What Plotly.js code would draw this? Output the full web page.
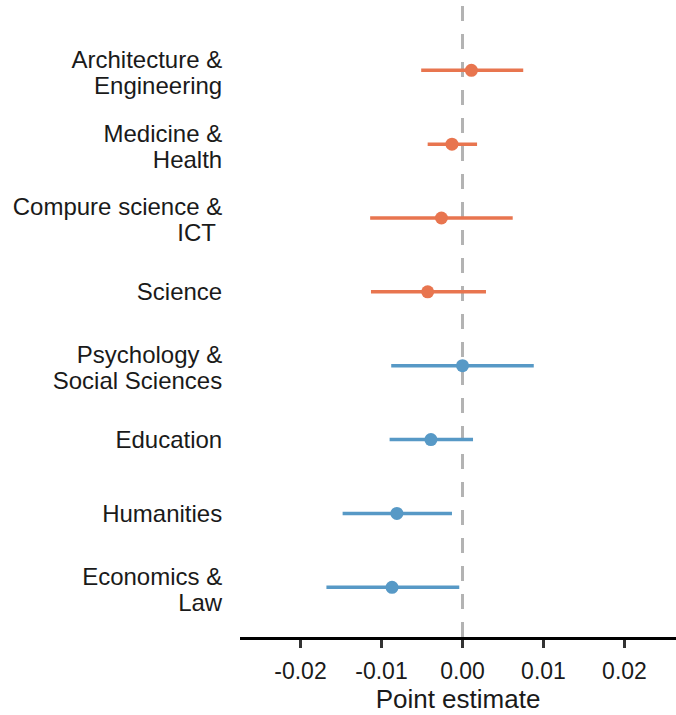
<!DOCTYPE html>
<html>
<head>
<meta charset="utf-8">
<script src="https://cdn.plot.ly/plotly-3.0.1.min.js"></script>
<style>html,body{margin:0;padding:0;background:#fff;}#chart{width:676px;height:715px;}</style>
</head>
<body>
<div id="chart"></div>
<script>
// Categories from top to bottom ("\n" marks a line break in the label)
const categories = [
  "Architecture &\nEngineering",
  "Medicine &\nHealth",
  "Compure science &\nICT ",
  "Science",
  "Psychology &\nSocial Sciences",
  "Education",
  "Humanities",
  "Economics &\nLaw"
];
const groupA = [0, 1, 2, 3];      // orange group (indices)
const groupB = [4, 5, 6, 7];      // blue group (indices)
const pointEstimate = [0.0011, -0.0013, -0.0026, -0.0043, 0.0000, -0.0039, -0.0081, -0.0087];
const ciLow  = [-0.0051, -0.0043, -0.0114, -0.0113, -0.0088, -0.0090, -0.0148, -0.0168];
const ciHigh = [ 0.0075,  0.0018,  0.0062,  0.0029,  0.0088,  0.0013, -0.0013, -0.0004];
const xTickVals = [-0.02, -0.01, 0.00, 0.01, 0.02];
const xTickText = ["-0.02", "-0.01", "0.00", "0.01", "0.02"];

const W = 676, H = 715;
const margin = {l: 240, r: 0, t: 5, b: 78};
const yRange = [-0.673, 7.884];
const n = categories.length;
const yPos = categories.map((c, i) => n - 1 - i);

// Build one tick per label line so the line spacing can match the reference
const pxPerUnit = (H - margin.t - margin.b) / (yRange[1] - yRange[0]);
const lineGapPx = 26, blockShiftPx = 2;
const yTickVals = [], yTickText = [];
categories.forEach((c, i) => {
  const lines = c.split('\n');
  const k = lines.length;
  lines.forEach((ln, j) => {
    const offPx = ((k - 1) / 2 - j) * lineGapPx - (k > 1 ? blockShiftPx : 0);
    yTickVals.push(yPos[i] + offPx / pxPerUnit);
    yTickText.push(ln);
  });
});

function makeTrace(idx, color) {
  return {
    type: 'scatter',
    mode: 'markers',
    x: idx.map(i => pointEstimate[i]),
    y: idx.map(i => yPos[i]),
    text: idx.map(i => categories[i].replace('\n', ' ')),
    marker: {color: color, size: 13},
    error_x: {
      type: 'data', symmetric: false,
      array: idx.map(i => ciHigh[i] - pointEstimate[i]),
      arrayminus: idx.map(i => pointEstimate[i] - ciLow[i]),
      color: color, thickness: 3.5, width: 0
    },
    hoverinfo: 'text+x',
    showlegend: false
  };
}

const data = [
  makeTrace(groupA, '#E8754F'),
  makeTrace(groupB, '#5799C6')
];

const layout = {
  width: W, height: H,
  margin: margin,
  paper_bgcolor: '#fff', plot_bgcolor: '#fff',
  font: {family: 'Liberation Sans, Arial, sans-serif', color: '#1a1a1a'},
  xaxis: {
    range: [-0.02747, 0.02636],
    tickvals: xTickVals, ticktext: xTickText,
    showgrid: false, zeroline: false,
    showline: true, linecolor: '#000', linewidth: 3,
    ticks: 'outside', ticklen: 8, tickwidth: 3, tickcolor: '#333',
    ticklabelstandoff: 3,
    tickfont: {size: 23, color: '#1a1a1a'},
    title: {text: 'Point estimate', font: {size: 26, color: '#1a1a1a'}, standoff: 5}
  },
  yaxis: {
    range: yRange,
    tickvals: yTickVals, ticktext: yTickText,
    showgrid: false, zeroline: false, showline: false,
    ticks: 'outside', ticklen: 12, tickcolor: 'rgba(0,0,0,0)',
    tickfont: {size: 24, color: '#1a1a1a'}
  },
  shapes: [{
    type: 'line', xref: 'x', yref: 'paper', x0: 0, x1: 0, y0: 0, y1: 1,
    line: {color: '#b3b3b3', width: 3, dash: '15px,13px'},
    layer: 'below'
  }]
};

Plotly.newPlot('chart', data, layout, {displayModeBar: false, staticPlot: true});
</script>
</body>
</html>
